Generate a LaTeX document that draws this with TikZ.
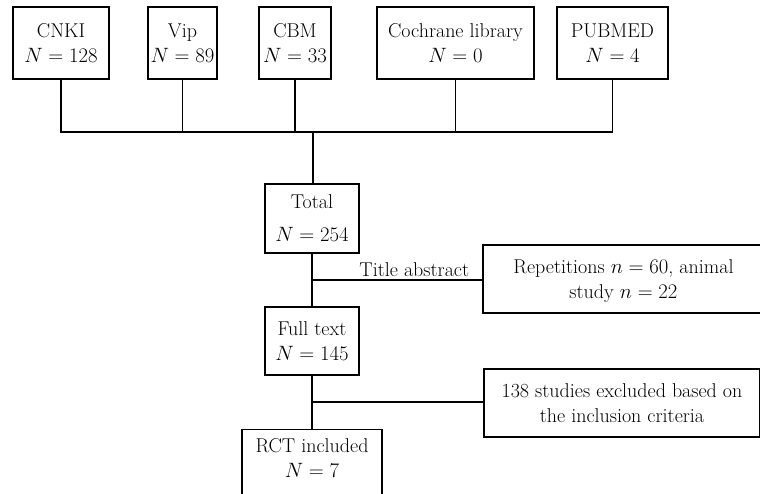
\documentclass[tikz,border=0pt]{standalone}
\usepackage{amsmath}
\usepackage{tikz}
\usetikzlibrary{positioning}

\begin{document}
\begin{tikzpicture}[x=1pt,y=-1pt,line width=1.1pt,
  box/.style={draw,align=center,inner sep=0pt,text depth=0pt,font=\fontsize{20}{25}\selectfont},
  lbl/.style={font=\fontsize{20}{25}\selectfont,inner sep=3pt}]
\useasboundingbox (0,0) rectangle (760,494);
\clip (0,0) rectangle (760,494);

% databases
\node[box,minimum width=96,minimum height=72] (cnki) at (61,43) {CNKI\\$N=128$};
\node[box,minimum width=69,minimum height=72] (vip) at (182.5,43) {Vip\\$N=89$};
\node[box,minimum width=72,minimum height=72] (cbm) at (295,43) {CBM\\$N=33$};
\node[box,minimum width=157,minimum height=72] (cochrane) at (455.5,43) {Cochrane library\\$N=0$};
\node[box,minimum width=111,minimum height=72] (pubmed) at (612.5,43) {PUBMED\\$N=4$};

% screening
\node[box,minimum width=94,minimum height=69,font=\fontsize{20}{33}\selectfont] (total) at (312,218.5) {Total\\$N=254$};
\node[box,minimum width=94,minimum height=68] (fulltext) at (312,341) {Full text\\$N=145$};
\node[box,minimum width=140,anchor=north,inner ysep=9pt,text depth=40pt] (rct) at (312,429) {RCT included\\$N=7$};

\node[box,minimum width=281,minimum height=68] (repet) at (623.5,279) {Repetitions $n=60$, animal\\study $n=22$};
\node[box,minimum width=276,minimum height=68] (excl) at (622,403) {138 studies excluded based on\\the inclusion criteria};

\coordinate (bus) at (313,132);
\coordinate (ta) at (312,280);
\coordinate (ex) at (312,402);

\draw (cnki.south) |- (bus) -| (pubmed.south);
\foreach \n in {vip,cbm,cochrane}
  \draw (\n.south) -- (\n.south |- bus);
\draw (bus) -- (bus |- total.north);

\draw (total) -- (fulltext);
\draw (fulltext) -- (rct);
\draw (ta) -- (ta -| repet.west) node[lbl,pos=0.6,above] (talbl) {Title abstract};
\draw (ex) -- (ex -| excl.west);
\end{tikzpicture}
\end{document}
